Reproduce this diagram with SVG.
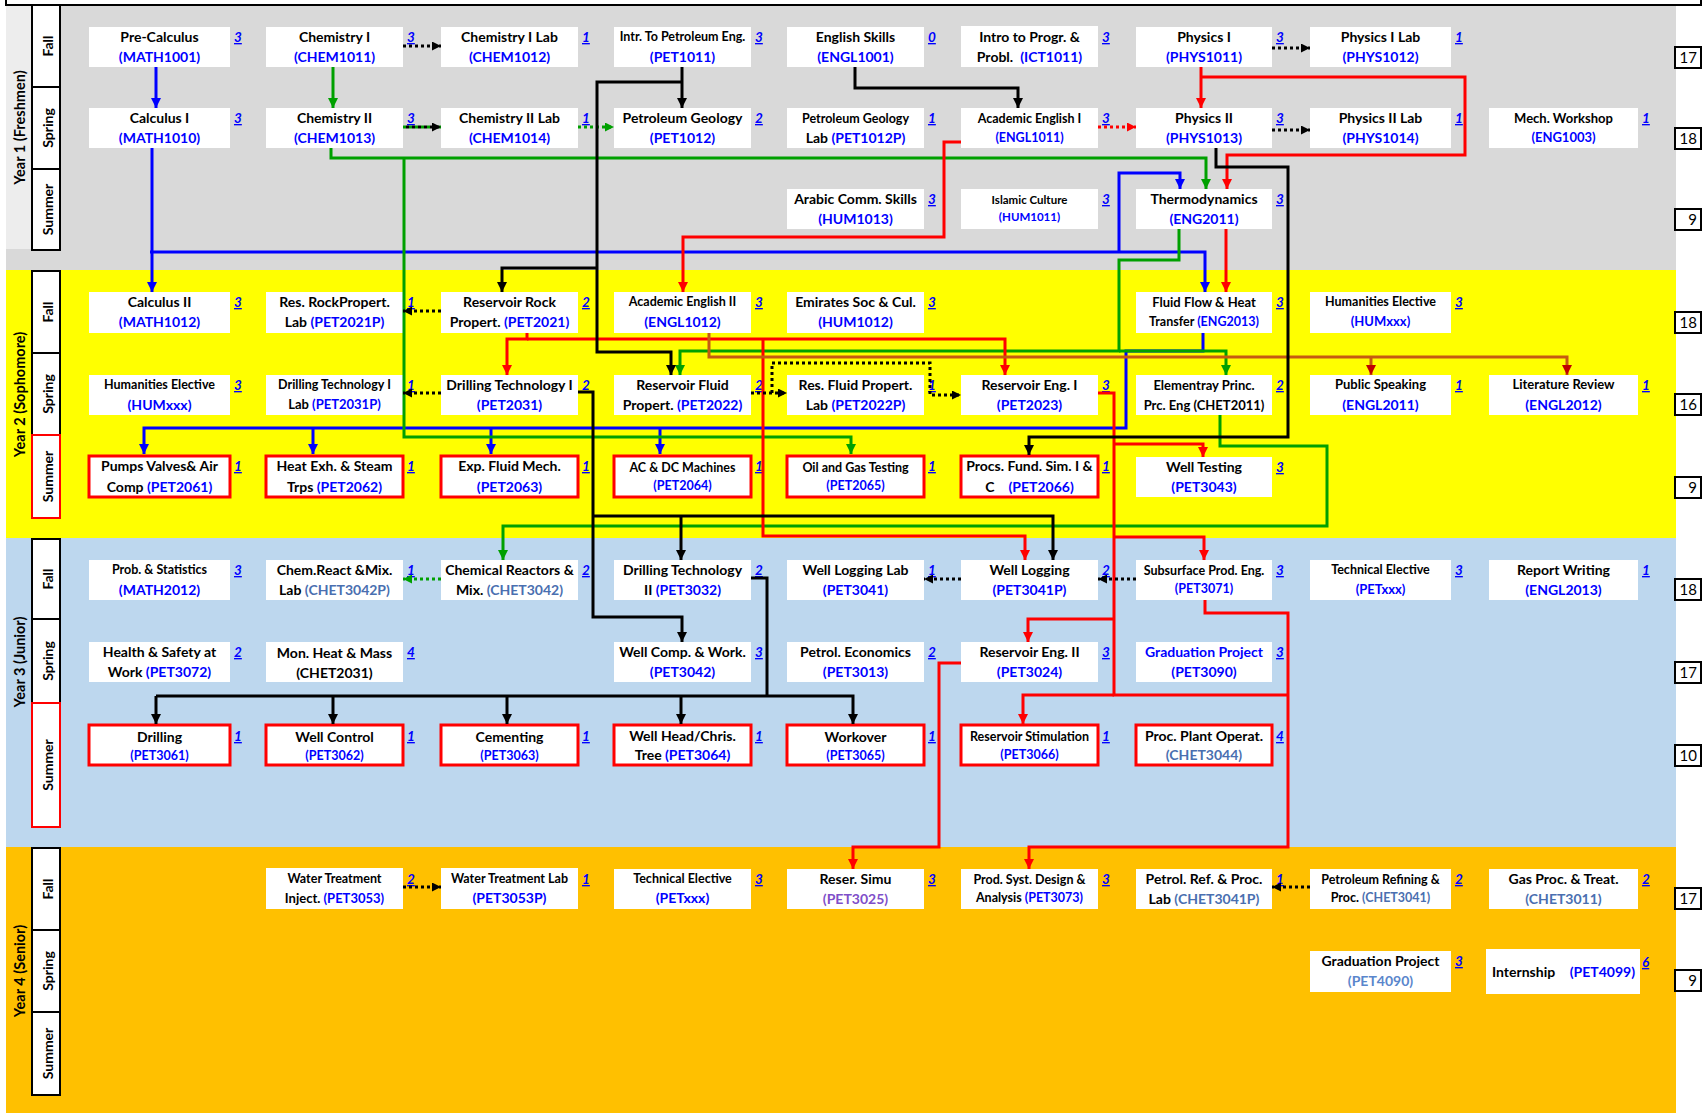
<svg xmlns="http://www.w3.org/2000/svg" width="1707" height="1113" viewBox="0 0 1707 1113">
<style>
text{font-family:Lato,"Liberation Sans",sans-serif;font-weight:bold;font-size:14px;text-anchor:middle;fill:#000}
.b{fill:#fff}
.rb{fill:#fff;stroke:#ff0000;stroke-width:3}
.c{fill:#0000ff}
.g{fill:#4a6fb0}
.p{fill:#7f4fc9}
.lb{fill:#5a86cc}
.k{fill:#000}
.cr{font-style:italic;text-decoration:underline;fill:#0000ff;text-anchor:start;font-size:13.5px}
.s{font-size:12.5px}
.s13{font-size:13px}
.xs{font-size:11.5px}
.sb{fill:#fff;stroke:#000;stroke-width:2}
.sbr{fill:#fff;stroke:#ff0000;stroke-width:2}
.sl{font-size:14px}
.yl{font-size:14.5px}
.cnt{font-weight:normal;font-size:15px;text-anchor:end}
.cb{fill:#fff;stroke:#000;stroke-width:2}
.ln{fill:none;stroke-width:3}
.dt{fill:none;stroke-width:3;stroke-dasharray:3 3}
.bl{stroke:#0000ff}
.gr{stroke:#00a000}
.rd{stroke:#ff0000}
.bk{stroke:#000}
.br{stroke:#c55a11}
</style>
<defs>
<marker id="mb" viewBox="0 0 10 10" refX="10" refY="5" markerWidth="10" markerHeight="10" markerUnits="userSpaceOnUse" orient="auto"><path d="M0,0L10,5L0,10z" fill="#0000ff"/></marker>
<marker id="mg" viewBox="0 0 10 10" refX="10" refY="5" markerWidth="10" markerHeight="10" markerUnits="userSpaceOnUse" orient="auto"><path d="M0,0L10,5L0,10z" fill="#00a000"/></marker>
<marker id="mr" viewBox="0 0 10 10" refX="10" refY="5" markerWidth="10" markerHeight="10" markerUnits="userSpaceOnUse" orient="auto"><path d="M0,0L10,5L0,10z" fill="#ff0000"/></marker>
<marker id="mk" viewBox="0 0 10 10" refX="10" refY="5" markerWidth="10" markerHeight="10" markerUnits="userSpaceOnUse" orient="auto"><path d="M0,0L10,5L0,10z" fill="#000"/></marker>
<marker id="mdr" viewBox="0 0 10 10" refX="10" refY="5" markerWidth="10" markerHeight="10" markerUnits="userSpaceOnUse" orient="auto"><path d="M0,0L10,5L0,10z" fill="#c00000"/></marker>
<marker id="mks" viewBox="0 0 10 10" refX="10" refY="5" markerWidth="9" markerHeight="9" markerUnits="userSpaceOnUse" orient="auto"><path d="M0,0L10,5L0,10z" fill="#000"/></marker>
<marker id="mgs" viewBox="0 0 10 10" refX="10" refY="5" markerWidth="9" markerHeight="9" markerUnits="userSpaceOnUse" orient="auto"><path d="M0,0L10,5L0,10z" fill="#00a000"/></marker>
<marker id="mrs" viewBox="0 0 10 10" refX="10" refY="5" markerWidth="9" markerHeight="9" markerUnits="userSpaceOnUse" orient="auto"><path d="M0,0L10,5L0,10z" fill="#ff0000"/></marker>
</defs>

<g id="background">
<rect x="0" y="0" width="1707" height="1113" fill="#fff"/>
<rect x="6" y="5" width="1670" height="265" fill="#d9d9d9"/>
<rect x="6" y="5" width="26" height="244" fill="#ededed"/>
<rect x="6" y="270" width="1670" height="268" fill="#ffff00"/>
<rect x="6" y="538" width="1670" height="309" fill="#bdd7ee"/>
<rect x="6" y="847" width="1670" height="266" fill="#ffc000"/>
<path d="M6,0V5H1701V0" stroke="#000" stroke-width="2" fill="none"/>
</g>

<g id="seasons">
<rect class="sb" x="32" y="5" width="28" height="82"/>
<rect class="sb" x="32" y="87" width="28" height="82"/>
<rect class="sb" x="32" y="169" width="28" height="81"/>
<rect class="sb" x="32" y="271" width="28" height="82"/>
<rect class="sb" x="32" y="353" width="28" height="82"/>
<rect class="sbr" x="32" y="435" width="28" height="83"/>
<rect class="sb" x="32" y="539" width="28" height="80"/>
<rect class="sb" x="32" y="619" width="28" height="84"/>
<rect class="sbr" x="32" y="703" width="28" height="124"/>
<rect class="sb" x="32" y="848" width="28" height="82"/>
<rect class="sb" x="32" y="930" width="28" height="82"/>
<rect class="sb" x="32" y="1012" width="28" height="83"/>
<text class="sl" transform="translate(53,46) rotate(-90)">Fall</text>
<text class="sl" transform="translate(53,128) rotate(-90)">Spring</text>
<text class="sl" transform="translate(53,209.5) rotate(-90)">Summer</text>
<text class="sl" transform="translate(53,312) rotate(-90)">Fall</text>
<text class="sl" transform="translate(53,394) rotate(-90)">Spring</text>
<text class="sl" transform="translate(53,476.5) rotate(-90)">Summer</text>
<text class="sl" transform="translate(53,579) rotate(-90)">Fall</text>
<text class="sl" transform="translate(53,661) rotate(-90)">Spring</text>
<text class="sl" transform="translate(53,765) rotate(-90)">Summer</text>
<text class="sl" transform="translate(53,889) rotate(-90)">Fall</text>
<text class="sl" transform="translate(53,971) rotate(-90)">Spring</text>
<text class="sl" transform="translate(53,1053.5) rotate(-90)">Summer</text>
<text class="yl" transform="translate(25,127.5) rotate(-90)">Year 1 (Freshmen)</text>
<text class="yl" transform="translate(25,394.5) rotate(-90)">Year 2 (Sophomore)</text>
<text class="yl" transform="translate(25,662) rotate(-90)">Year 3 (Junior)</text>
<text class="yl" transform="translate(25,971) rotate(-90)">Year 4 (Senior)</text>
</g>

<g id="counts">
<rect class="cb" x="1675" y="47" width="26" height="21"/><text class="cnt" x="1697" y="63">17</text>
<rect class="cb" x="1675" y="128" width="26" height="21"/><text class="cnt" x="1697" y="144">18</text>
<rect class="cb" x="1675" y="209" width="26" height="21"/><text class="cnt" x="1697" y="225">9</text>
<rect class="cb" x="1675" y="312" width="26" height="21"/><text class="cnt" x="1697" y="328">18</text>
<rect class="cb" x="1675" y="394" width="26" height="21"/><text class="cnt" x="1697" y="410">16</text>
<rect class="cb" x="1675" y="477" width="26" height="21"/><text class="cnt" x="1697" y="493">9</text>
<rect class="cb" x="1675" y="579" width="26" height="21"/><text class="cnt" x="1697" y="595">18</text>
<rect class="cb" x="1675" y="662" width="26" height="21"/><text class="cnt" x="1697" y="678">17</text>
<rect class="cb" x="1675" y="745" width="26" height="21"/><text class="cnt" x="1697" y="761">10</text>
<rect class="cb" x="1675" y="888" width="26" height="21"/><text class="cnt" x="1697" y="904">17</text>
<rect class="cb" x="1675" y="970" width="26" height="21"/><text class="cnt" x="1697" y="986">9</text>
</g>

<!-- Year 1 Fall -->
<g id="n-math1001"><rect class="b" x="89" y="27" width="141" height="40"/><text x="159.5" y="42">Pre-Calculus</text><text class="c" x="159.5" y="62">(MATH1001)</text><text class="cr" x="234" y="42">3</text></g>
<g id="n-chem1011"><rect class="b" x="266" y="27" width="137" height="40"/><text x="334.5" y="42">Chemistry I</text><text class="c" x="334.5" y="62">(CHEM1011)</text><text class="cr" x="407" y="42">3</text></g>
<g id="n-chem1012"><rect class="b" x="441" y="27" width="137" height="40"/><text x="509.5" y="42">Chemistry I Lab</text><text class="c" x="509.5" y="62">(CHEM1012)</text><text class="cr" x="582" y="42">1</text></g>
<g id="n-pet1011"><rect class="b" x="614" y="27" width="137" height="40"/><text class="s" x="682.5" y="41">Intr. To Petroleum Eng.</text><text class="c" x="682.5" y="62">(PET1011)</text><text class="cr" x="755" y="42">3</text></g>
<g id="n-engl1001"><rect class="b" x="787" y="27" width="137" height="40"/><text x="855.5" y="42">English Skills</text><text class="c" x="855.5" y="62">(ENGL1001)</text><text class="cr" x="928" y="42">0</text></g>
<g id="n-ict1011"><rect class="b" x="961" y="26" width="137" height="41"/><text x="1029.5" y="42">Intro to Progr. &amp;</text><text x="1029.5" y="62">Probl.<tspan class="c" dx="7">(ICT1011)</tspan></text><text class="cr" x="1102" y="42">3</text></g>
<g id="n-phys1011"><rect class="b" x="1136" y="27" width="136" height="40"/><text x="1204" y="42">Physics I</text><text class="c" x="1204" y="62">(PHYS1011)</text><text class="cr" x="1276" y="42">3</text></g>
<g id="n-phys1012"><rect class="b" x="1310" y="27" width="141" height="40"/><text x="1380.5" y="42">Physics I Lab</text><text class="c" x="1380.5" y="62">(PHYS1012)</text><text class="cr" x="1455" y="42">1</text></g>

<!-- Year 1 Spring -->
<g id="n-math1010"><rect class="b" x="89" y="108" width="141" height="40"/><text x="159.5" y="123">Calculus I</text><text class="c" x="159.5" y="143">(MATH1010)</text><text class="cr" x="234" y="123">3</text></g>
<g id="n-chem1013"><rect class="b" x="266" y="108" width="137" height="40"/><text x="334.5" y="123">Chemistry II</text><text class="c" x="334.5" y="143">(CHEM1013)</text><text class="cr" x="407" y="123">3</text></g>
<g id="n-chem1014"><rect class="b" x="441" y="108" width="137" height="40"/><text x="509.5" y="123">Chemistry II Lab</text><text class="c" x="509.5" y="143">(CHEM1014)</text><text class="cr" x="582" y="123">1</text></g>
<g id="n-pet1012"><rect class="b" x="614" y="108" width="137" height="40"/><text x="682.5" y="123">Petroleum Geology</text><text class="c" x="682.5" y="143">(PET1012)</text><text class="cr" x="755" y="123">2</text></g>
<g id="n-pet1012p"><rect class="b" x="787" y="108" width="137" height="40"/><text class="s" x="855.5" y="123">Petroleum Geology</text><text x="855.5" y="143">Lab <tspan class="c">(PET1012P)</tspan></text><text class="cr" x="928" y="123">1</text></g>
<g id="n-engl1011"><rect class="b" x="961" y="108" width="137" height="40"/><text class="s" x="1029.5" y="123">Academic English I</text><text class="c s" x="1029.5" y="142">(ENGL1011)</text><text class="cr" x="1102" y="123">3</text></g>
<g id="n-phys1013"><rect class="b" x="1136" y="108" width="136" height="40"/><text x="1204" y="123">Physics II</text><text class="c" x="1204" y="143">(PHYS1013)</text><text class="cr" x="1276" y="123">3</text></g>
<g id="n-phys1014"><rect class="b" x="1310" y="108" width="141" height="40"/><text x="1380.5" y="123">Physics II Lab</text><text class="c" x="1380.5" y="143">(PHYS1014)</text><text class="cr" x="1455" y="123">1</text></g>
<g id="n-eng1003"><rect class="b" x="1489" y="108" width="149" height="40"/><text class="s13" x="1563.5" y="123">Mech. Workshop</text><text class="c s13" x="1563.5" y="142">(ENG1003)</text><text class="cr" x="1642" y="123">1</text></g>

<!-- Year 1 Summer -->
<g id="n-hum1013"><rect class="b" x="787" y="189" width="137" height="40"/><text x="855.5" y="204">Arabic Comm. Skills</text><text class="c" x="855.5" y="224">(HUM1013)</text><text class="cr" x="928" y="204">3</text></g>
<g id="n-hum1011"><rect class="b" x="961" y="189" width="137" height="40"/><text class="xs" x="1029.5" y="204">Islamic Culture</text><text class="c xs" x="1029.5" y="221">(HUM1011)</text><text class="cr" x="1102" y="204">3</text></g>
<g id="n-eng2011"><rect class="b" x="1136" y="189" width="136" height="40"/><text x="1204" y="204">Thermodynamics</text><text class="c" x="1204" y="224">(ENG2011)</text><text class="cr" x="1276" y="204">3</text></g>

<!-- Year 2 Fall -->
<g id="n-math1012"><rect class="b" x="89" y="292" width="141" height="41"/><text x="159.5" y="307">Calculus II</text><text class="c" x="159.5" y="327">(MATH1012)</text><text class="cr" x="234" y="307">3</text></g>
<g id="n-pet2021p"><rect class="b" x="266" y="292" width="137" height="41"/><text x="334.5" y="307">Res. RockPropert.</text><text x="334.5" y="327">Lab <tspan class="c">(PET2021P)</tspan></text><text class="cr" x="407" y="307">1</text></g>
<g id="n-pet2021"><rect class="b" x="441" y="292" width="137" height="41"/><text x="509.5" y="307">Reservoir Rock</text><text x="509.5" y="327">Propert. <tspan class="c">(PET2021)</tspan></text><text class="cr" x="582" y="307">2</text></g>
<g id="n-engl1012"><rect class="b" x="614" y="292" width="137" height="41"/><text class="s" x="682.5" y="306">Academic English II</text><text class="c" x="682.5" y="327">(ENGL1012)</text><text class="cr" x="755" y="307">3</text></g>
<g id="n-hum1012"><rect class="b" x="787" y="292" width="137" height="41"/><text x="855.5" y="307">Emirates Soc &amp; Cul.</text><text class="c" x="855.5" y="327">(HUM1012)</text><text class="cr" x="928" y="307">3</text></g>
<g id="n-eng2013"><rect class="b" x="1136" y="292" width="136" height="41"/><text class="s13" x="1204" y="307">Fluid Flow &amp; Heat</text><text class="s" x="1204" y="326">Transfer <tspan class="c">(ENG2013)</tspan></text><text class="cr" x="1276" y="307">3</text></g>
<g id="n-humxxx1"><rect class="b" x="1310" y="292" width="141" height="41"/><text class="s" x="1380.5" y="306">Humanities Elective</text><text class="c s13" x="1380.5" y="326">(HUMxxx)</text><text class="cr" x="1455" y="307">3</text></g>

<!-- Year 2 Spring -->
<g id="n-humxxx2"><rect class="b" x="89" y="375" width="141" height="40"/><text class="s" x="159.5" y="389">Humanities Elective</text><text class="c" x="159.5" y="410">(HUMxxx)</text><text class="cr" x="234" y="390">3</text></g>
<g id="n-pet2031p"><rect class="b" x="266" y="375" width="137" height="40"/><text class="s" x="334.5" y="389">Drilling Technology I</text><text class="s13" x="334.5" y="409">Lab <tspan class="c">(PET2031P)</tspan></text><text class="cr" x="407" y="390">1</text></g>
<g id="n-pet2031"><rect class="b" x="441" y="375" width="137" height="40"/><text x="509.5" y="390">Drilling Technology I</text><text class="c" x="509.5" y="410">(PET2031)</text><text class="cr" x="582" y="390">2</text></g>
<g id="n-pet2022"><rect class="b" x="614" y="375" width="137" height="40"/><text x="682.5" y="390">Reservoir Fluid</text><text x="682.5" y="410">Propert. <tspan class="c">(PET2022)</tspan></text><text class="cr" x="755" y="390">2</text></g>
<g id="n-pet2022p"><rect class="b" x="787" y="375" width="137" height="40"/><text x="855.5" y="390">Res. Fluid Propert.</text><text x="855.5" y="410">Lab <tspan class="c">(PET2022P)</tspan></text><text class="cr" x="928" y="390">1</text></g>
<g id="n-pet2023"><rect class="b" x="961" y="375" width="137" height="40"/><text x="1029.5" y="390">Reservoir Eng. I</text><text class="c" x="1029.5" y="410">(PET2023)</text><text class="cr" x="1102" y="390">3</text></g>
<g id="n-chet2011"><rect class="b" x="1136" y="375" width="136" height="40"/><text class="s13" x="1204" y="390">Elementray Princ.</text><text class="s13" x="1204" y="410">Prc. Eng (CHET2011)</text><text class="cr" x="1276" y="390">2</text></g>
<g id="n-engl2011"><rect class="b" x="1310" y="375" width="141" height="40"/><text class="s13" x="1380.5" y="389">Public Speaking</text><text class="c" x="1380.5" y="410">(ENGL2011)</text><text class="cr" x="1455" y="390">1</text></g>
<g id="n-engl2012"><rect class="b" x="1489" y="375" width="149" height="40"/><text class="s13" x="1563.5" y="389">Literature Review</text><text class="c" x="1563.5" y="410">(ENGL2012)</text><text class="cr" x="1642" y="390">1</text></g>

<!-- Year 2 Summer -->
<g id="n-pet2061"><rect class="rb" x="89" y="456" width="141" height="41"/><text x="159.5" y="471">Pumps Valves&amp; Air</text><text x="159.5" y="492">Comp <tspan class="c">(PET2061)</tspan></text><text class="cr" x="234" y="471">1</text></g>
<g id="n-pet2062"><rect class="rb" x="266" y="456" width="137" height="41"/><text x="334.5" y="471">Heat Exh. &amp; Steam</text><text x="334.5" y="492">Trps <tspan class="c">(PET2062)</tspan></text><text class="cr" x="407" y="471">1</text></g>
<g id="n-pet2063"><rect class="rb" x="441" y="456" width="137" height="41"/><text x="509.5" y="471">Exp. Fluid Mech.</text><text class="c" x="509.5" y="492">(PET2063)</text><text class="cr" x="582" y="471">1</text></g>
<g id="n-pet2064"><rect class="rb" x="614" y="456" width="137" height="41"/><text class="s" x="682.5" y="472">AC &amp; DC Machines</text><text class="c s" x="682.5" y="490">(PET2064)</text><text class="cr" x="755" y="471">1</text></g>
<g id="n-pet2065"><rect class="rb" x="787" y="456" width="137" height="41"/><text class="s" x="855.5" y="472">Oil and Gas Testing</text><text class="c s" x="855.5" y="490">(PET2065)</text><text class="cr" x="928" y="471">1</text></g>
<g id="n-pet2066"><rect class="rb" x="961" y="456" width="137" height="41"/><text x="1029.5" y="471">Procs. Fund. Sim. I &amp;</text><text x="1029.5" y="492">C<tspan class="c" dx="14">(PET2066)</tspan></text><text class="cr" x="1102" y="471">1</text></g>
<g id="n-pet3043"><rect class="b" x="1136" y="457" width="136" height="40"/><text x="1204" y="472">Well Testing</text><text class="c" x="1204" y="492">(PET3043)</text><text class="cr" x="1276" y="472">3</text></g>

<!-- Year 3 Fall -->
<g id="n-math2012"><rect class="b" x="89" y="560" width="141" height="40"/><text class="s" x="159.5" y="574">Prob. &amp; Statistics</text><text class="c" x="159.5" y="595">(MATH2012)</text><text class="cr" x="234" y="575">3</text></g>
<g id="n-chet3042p"><rect class="b" x="266" y="560" width="137" height="40"/><text x="334.5" y="575">Chem.React &amp;Mix.</text><text x="334.5" y="595">Lab <tspan class="g">(CHET3042P)</tspan></text><text class="cr" x="407" y="575">1</text></g>
<g id="n-chet3042"><rect class="b" x="441" y="560" width="137" height="40"/><text x="509.5" y="575">Chemical Reactors &amp;</text><text x="509.5" y="595">Mix. <tspan class="g">(CHET3042)</tspan></text><text class="cr" x="582" y="575">2</text></g>
<g id="n-pet3032"><rect class="b" x="614" y="560" width="137" height="40"/><text x="682.5" y="575">Drilling Technology</text><text x="682.5" y="595">II <tspan class="c">(PET3032)</tspan></text><text class="cr" x="755" y="575">2</text></g>
<g id="n-pet3041"><rect class="b" x="787" y="560" width="137" height="40"/><text x="855.5" y="575">Well Logging Lab</text><text class="c" x="855.5" y="595">(PET3041)</text><text class="cr" x="928" y="575">1</text></g>
<g id="n-pet3041p"><rect class="b" x="961" y="560" width="137" height="40"/><text x="1029.5" y="575">Well Logging</text><text class="c" x="1029.5" y="595">(PET3041P)</text><text class="cr" x="1102" y="575">2</text></g>
<g id="n-pet3071"><rect class="b" x="1136" y="560" width="136" height="40"/><text class="s" x="1204" y="575">Subsurface Prod. Eng.</text><text class="c s" x="1204" y="593">(PET3071)</text><text class="cr" x="1276" y="575">3</text></g>
<g id="n-petxxx1"><rect class="b" x="1310" y="560" width="141" height="40"/><text class="s" x="1380.5" y="574">Technical Elective</text><text class="c s13" x="1380.5" y="594">(PETxxx)</text><text class="cr" x="1455" y="575">3</text></g>
<g id="n-engl2013"><rect class="b" x="1489" y="560" width="149" height="40"/><text x="1563.5" y="575">Report Writing</text><text class="c" x="1563.5" y="595">(ENGL2013)</text><text class="cr" x="1642" y="575">1</text></g>

<!-- Year 3 Spring -->
<g id="n-pet3072"><rect class="b" x="89" y="642" width="141" height="40"/><text x="159.5" y="657">Health &amp; Safety at</text><text x="159.5" y="677">Work <tspan class="c">(PET3072)</tspan></text><text class="cr" x="234" y="657">2</text></g>
<g id="n-chet2031"><rect class="b" x="266" y="642" width="137" height="40"/><text x="334.5" y="658">Mon. Heat &amp; Mass</text><text x="334.5" y="678">(CHET2031)</text><text class="cr" x="407" y="657">4</text></g>
<g id="n-pet3042"><rect class="b" x="614" y="642" width="137" height="40"/><text x="682.5" y="657">Well Comp. &amp; Work.</text><text class="c" x="682.5" y="677">(PET3042)</text><text class="cr" x="755" y="657">3</text></g>
<g id="n-pet3013"><rect class="b" x="787" y="642" width="137" height="40"/><text x="855.5" y="657">Petrol. Economics</text><text class="c" x="855.5" y="677">(PET3013)</text><text class="cr" x="928" y="657">2</text></g>
<g id="n-pet3024"><rect class="b" x="961" y="642" width="137" height="40"/><text x="1029.5" y="657">Reservoir Eng. II</text><text class="c" x="1029.5" y="677">(PET3024)</text><text class="cr" x="1102" y="657">3</text></g>
<g id="n-pet3090"><rect class="b" x="1136" y="642" width="136" height="40"/><text class="c" x="1204" y="657">Graduation Project</text><text class="c" x="1204" y="677">(PET3090)</text><text class="cr" x="1276" y="657">3</text></g>

<!-- Year 3 Summer -->
<g id="n-pet3061"><rect class="rb" x="89" y="725" width="141" height="40"/><text x="159.5" y="742">Drilling</text><text class="c s" x="159.5" y="760">(PET3061)</text><text class="cr" x="234" y="741">1</text></g>
<g id="n-pet3062"><rect class="rb" x="266" y="725" width="137" height="40"/><text x="334.5" y="742">Well Control</text><text class="c s" x="334.5" y="760">(PET3062)</text><text class="cr" x="407" y="741">1</text></g>
<g id="n-pet3063"><rect class="rb" x="441" y="725" width="137" height="40"/><text x="509.5" y="742">Cementing</text><text class="c s" x="509.5" y="760">(PET3063)</text><text class="cr" x="582" y="741">1</text></g>
<g id="n-pet3064"><rect class="rb" x="614" y="725" width="137" height="40"/><text x="682.5" y="741">Well Head/Chris.</text><text x="682.5" y="760">Tree <tspan class="c">(PET3064)</tspan></text><text class="cr" x="755" y="741">1</text></g>
<g id="n-pet3065"><rect class="rb" x="787" y="725" width="137" height="40"/><text x="855.5" y="742">Workover</text><text class="c s" x="855.5" y="760">(PET3065)</text><text class="cr" x="928" y="741">1</text></g>
<g id="n-pet3066"><rect class="rb" x="961" y="725" width="137" height="40"/><text class="s" x="1029.5" y="741">Reservoir Stimulation</text><text class="c s" x="1029.5" y="759">(PET3066)</text><text class="cr" x="1102" y="741">1</text></g>
<g id="n-chet3044"><rect class="rb" x="1136" y="725" width="136" height="40"/><text x="1204" y="741">Proc. Plant Operat.</text><text class="g" x="1204" y="760">(CHET3044)</text><text class="cr" x="1276" y="741">4</text></g>

<!-- Year 4 Fall -->
<g id="n-pet3053"><rect class="b" x="266" y="868" width="137" height="41"/><text class="s" x="334.5" y="883">Water Treatment</text><text class="s13" x="334.5" y="903">Inject. <tspan class="c">(PET3053)</tspan></text><text class="cr" x="407" y="884">2</text></g>
<g id="n-pet3053p"><rect class="b" x="441" y="868" width="137" height="41"/><text class="s" x="509.5" y="883">Water Treatment Lab</text><text class="c" x="509.5" y="903">(PET3053P)</text><text class="cr" x="582" y="884">1</text></g>
<g id="n-petxxx2"><rect class="b" x="614" y="869" width="137" height="40"/><text class="s" x="682.5" y="883">Technical Elective</text><text class="c" x="682.5" y="903">(PETxxx)</text><text class="cr" x="755" y="884">3</text></g>
<g id="n-pet3025"><rect class="b" x="787" y="869" width="137" height="40"/><text x="855.5" y="884">Reser. Simu</text><text class="p" x="855.5" y="904">(PET3025)</text><text class="cr" x="928" y="884">3</text></g>
<g id="n-pet3073"><rect class="b" x="961" y="869" width="137" height="40"/><text class="s" x="1029.5" y="884">Prod. Syst. Design &amp;</text><text class="s" x="1029.5" y="902">Analysis <tspan class="c">(PET3073)</tspan></text><text class="cr" x="1102" y="884">3</text></g>
<g id="n-chet3041p"><rect class="b" x="1136" y="869" width="136" height="40"/><text x="1204" y="884">Petrol. Ref. &amp; Proc.</text><text x="1204" y="904">Lab <tspan class="g">(CHET3041P)</tspan></text><text class="cr" x="1276" y="884">1</text></g>
<g id="n-chet3041"><rect class="b" x="1310" y="869" width="141" height="40"/><text class="s" x="1380.5" y="884">Petroleum Refining &amp;</text><text class="s" x="1380.5" y="902">Proc. <tspan class="g">(CHET3041)</tspan></text><text class="cr" x="1455" y="884">2</text></g>
<g id="n-chet3011"><rect class="b" x="1489" y="869" width="149" height="40"/><text x="1563.5" y="884">Gas Proc. &amp; Treat.</text><text class="g" x="1563.5" y="904">(CHET3011)</text><text class="cr" x="1642" y="884">2</text></g>

<!-- Year 4 Spring -->
<g id="n-pet4090"><rect class="b" x="1310" y="951" width="141" height="41"/><text x="1380.5" y="966">Graduation Project</text><text class="lb" x="1380.5" y="986">(PET4090)</text><text class="cr" x="1455" y="966">3</text></g>
<g id="n-pet4099"><rect class="b" x="1486" y="949" width="154" height="45"/><text x="1492" y="977" style="text-anchor:start">Internship</text><text class="c" x="1635" y="977" style="text-anchor:end">(PET4099)</text><text class="cr" x="1642" y="967">6</text></g>

<g id="connectors">
<!-- blue -->
<path class="ln bl" d="M156,67V108" marker-end="url(#mb)"/>
<path class="ln bl" d="M152,148V292" marker-end="url(#mb)"/>
<path class="ln bl" d="M150,252H1205V292" marker-end="url(#mb)"/>
<path class="ln bl" d="M1119,252V173H1180V189" marker-end="url(#mb)"/>
<path class="ln bl" d="M1203,333V351H1126V428H144V454" marker-end="url(#mb)"/>
<path class="ln bl" d="M313,428V454" marker-end="url(#mb)"/>
<path class="ln bl" d="M491,428V454" marker-end="url(#mb)"/>
<path class="ln bl" d="M660,428V454" marker-end="url(#mb)"/>
<!-- green -->
<path class="ln gr" d="M333,67V108" marker-end="url(#mg)"/>
<path class="ln gr" d="M331,148V158H1206V189" marker-end="url(#mg)"/>
<path class="ln gr" d="M404,158V437H851V454" marker-end="url(#mg)"/>
<path class="ln gr" d="M1179,229V260H1119V351H680V375" marker-end="url(#mg)"/>
<path class="ln gr" d="M1119,351H1226V375" marker-end="url(#mg)"/>
<path class="ln gr" d="M1220,415V446H1327V526H503V560" marker-end="url(#mg)"/>
<path class="dt gr" d="M578,127H614" marker-end="url(#mgs)"/>
<path class="dt gr" d="M441,579H403" marker-end="url(#mgs)"/>
<!-- red -->
<path class="ln rd" d="M1201,67V108" marker-end="url(#mr)"/>
<path class="ln rd" d="M1201,77H1465V155H1227V189" marker-end="url(#mr)"/>
<path class="ln rd" d="M961,142H944V237H683V292" marker-end="url(#mr)"/>
<path class="ln rd" d="M1226,229V292" marker-end="url(#mr)"/>
<path class="ln rd" d="M527,333V339H507V375" marker-end="url(#mr)"/>
<path class="ln rd" d="M527,339H1005V375" marker-end="url(#mr)"/>
<path class="ln rd" d="M763,339V536H1025V560" marker-end="url(#mr)"/>
<path class="ln rd" d="M1098,393H1114V695H1288"/>
<path class="ln rd" d="M1114,444H1203V457" marker-end="url(#mr)"/>
<path class="ln rd" d="M1114,537H1204V560" marker-end="url(#mr)"/>
<path class="ln rd" d="M1114,619H1028V642" marker-end="url(#mr)"/>
<path class="ln rd" d="M1114,695H1023V724" marker-end="url(#mr)"/>
<path class="ln rd" d="M1205,600V613H1288V847H1029V869" marker-end="url(#mr)"/>
<path class="ln rd" d="M961,663H939V847H853V869" marker-end="url(#mr)"/>
<path class="dt rd" d="M1098,127H1136" marker-end="url(#mrs)"/>
<!-- brown -->
<path class="ln br" d="M709,333V357H1567V375" marker-end="url(#mdr)"/>
<path class="ln br" d="M1371,357V375" marker-end="url(#mdr)"/>
<!-- black -->
<path class="ln bk" d="M682,67V108" marker-end="url(#mk)"/>
<path class="ln bk" d="M682,82H597V352H671V375" marker-end="url(#mk)"/>
<path class="ln bk" d="M597,268H502V292" marker-end="url(#mk)"/>
<path class="ln bk" d="M855,67V88H1018V108" marker-end="url(#mk)"/>
<path class="ln bk" d="M1216,148V167H1288V437H1029V455" marker-end="url(#mk)"/>
<path class="ln bk" d="M578,392H593V617H682V642" marker-end="url(#mk)"/>
<path class="ln bk" d="M593,516H1053V560" marker-end="url(#mk)"/>
<path class="ln bk" d="M681,516V560" marker-end="url(#mk)"/>
<path class="ln bk" d="M751,578H767V696"/>
<path class="ln bk" d="M156,696H853V724" marker-end="url(#mk)"/>
<path class="ln bk" d="M156,696V724" marker-end="url(#mk)"/>
<path class="ln bk" d="M333,696V724" marker-end="url(#mk)"/>
<path class="ln bk" d="M507,696V724" marker-end="url(#mk)"/>
<path class="ln bk" d="M681,696V724" marker-end="url(#mk)"/>
<!-- black dotted -->
<path class="dt bk" d="M403,46H441" marker-end="url(#mks)"/>
<path class="dt gr" d="M403,127H441"/>
<path class="dt bk" d="M406,127H441" marker-end="url(#mks)"/>
<path class="dt bk" d="M1272,48H1310" marker-end="url(#mks)"/>
<path class="dt bk" d="M1272,130H1310" marker-end="url(#mks)"/>
<path class="dt bk" d="M441,311H403" marker-end="url(#mks)"/>
<path class="dt bk" d="M441,393H403" marker-end="url(#mks)"/>
<path class="dt bk" d="M751,393H787" marker-end="url(#mks)"/>
<path class="dt bk" d="M772,393V363H930V395H961" marker-end="url(#mks)"/>
<path class="dt bk" d="M961,579H924" marker-end="url(#mks)"/>
<path class="dt bk" d="M1136,579H1098" marker-end="url(#mks)"/>
<path class="dt bk" d="M403,887H441" marker-end="url(#mks)"/>
<path class="dt bk" d="M1310,887H1272" marker-end="url(#mks)"/>
</g>
</svg>
